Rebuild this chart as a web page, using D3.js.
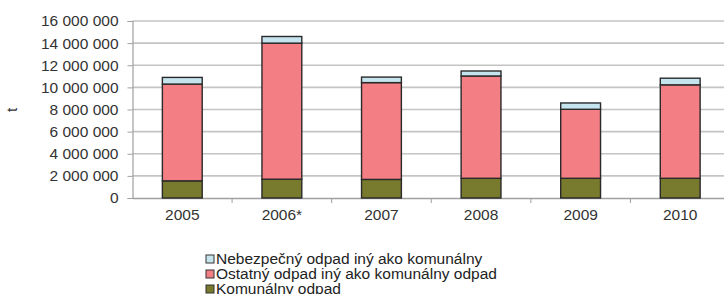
<!DOCTYPE html>
<html><head><meta charset="utf-8">
<script src="https://cdn.jsdelivr.net/npm/d3@7"></script>
<style>body{margin:0;background:#fff}svg{display:block}</style>
</head><body>
<svg id="c" width="724" height="294"></svg>
<script>
const categories = ["2005","2006*","2007","2008","2009","2010"];
const komunalny = [1550000,1700000,1680000,1780000,1780000,1780000];
const ostatny = [8750000,12300000,8750000,9250000,6240000,8450000];
const nebezpecny = [600000,600000,500000,450000,570000,600000];
const yTicks = [0,2000000,4000000,6000000,8000000,10000000,12000000,14000000,16000000];
const seriesNames = ["Komunálny odpad","Ostatný odpad iný ako komunálny odpad","Nebezpečný odpad iný ako komunálny"];
const colors = ["#787a2d","#f37e84","#c6e4ee"];

const svg = d3.select("#c");
const font = "'Liberation Sans', Arial, sans-serif";
const x = d3.scaleBand().domain(categories).range([132.5, 730]).paddingInner(0.6).paddingOuter(0.3);
const y = d3.scaleLinear().domain([0,16000000]).range([198, 21]);

// gridlines
svg.append("g").selectAll("line").data(yTicks.slice(1)).join("line")
  .attr("x1",132.5).attr("x2",724).attr("y1",d=>y(d)).attr("y2",d=>y(d))
  .attr("stroke","#c4c4c4").attr("stroke-width",1.6);

// y axis
const fmt = d => d3.format(",")(d).replace(/,/g," ");
const ya = svg.append("g").attr("transform","translate(132.5,0)")
  .call(d3.axisLeft(y).tickValues(yTicks).tickFormat(fmt).tickSize(5).tickPadding(9));
ya.select(".domain").attr("stroke","#a0a0a0").attr("stroke-width",1.2);
ya.selectAll(".tick line").attr("stroke","#a0a0a0");
ya.selectAll("text").attr("font-family",font).attr("font-size","15.5px").attr("fill","#333");

// x axis
const xa = svg.append("g").attr("transform","translate(0,198)")
  .call(d3.axisBottom(x).tickSize(0).tickPadding(11));
xa.select(".domain").attr("stroke","#a0a0a0").attr("stroke-width",1.4);
xa.selectAll("text").attr("font-family",font).attr("font-size","15.5px").attr("fill","#333");
// boundary ticks
svg.append("g").selectAll("line").data(categories.slice(1)).join("line")
  .attr("x1",d=>x(d)-x.step()*x.paddingInner()/2 - 0).attr("x2",d=>x(d)-x.step()*x.paddingInner()/2)
  .attr("y1",198).attr("y2",203).attr("stroke","#a0a0a0");

// bars
const stackData = categories.map((c,i)=>({cat:c, k:komunalny[i], o:ostatny[i], n:nebezpecny[i]}));
const stack = d3.stack().keys(["k","o","n"])(stackData);
svg.append("g").selectAll("g").data(stack).join("g")
  .attr("fill",(d,i)=>colors[i])
  .selectAll("rect").data(d=>d).join("rect")
  .attr("x",d=>x(d.data.cat)).attr("width",x.bandwidth())
  .attr("y",d=>y(d[1])).attr("height",d=>y(d[0])-y(d[1]))
  .attr("stroke","#2a2a2a").attr("stroke-width",1.4);

// y label
svg.append("text").attr("transform","translate(17,110) rotate(-90)")
  .attr("text-anchor","middle").attr("font-family",font).attr("font-size","15px").attr("fill","#333").text("t");

// legend
const legendOrder = [2,1,0];
const lg = svg.append("g").selectAll("g").data(legendOrder).join("g")
  .attr("transform",(d,i)=>`translate(206,${255+i*15})`);
lg.append("rect").attr("width",8).attr("height",8).attr("fill",d=>colors[d]).attr("stroke","#333").attr("stroke-width",1);
lg.append("text").attr("x",10).attr("y",8.5).attr("font-family",font).attr("font-size","15.5px").attr("fill","#222")
  .text(d=>seriesNames[d]);
</script>
</body></html>
